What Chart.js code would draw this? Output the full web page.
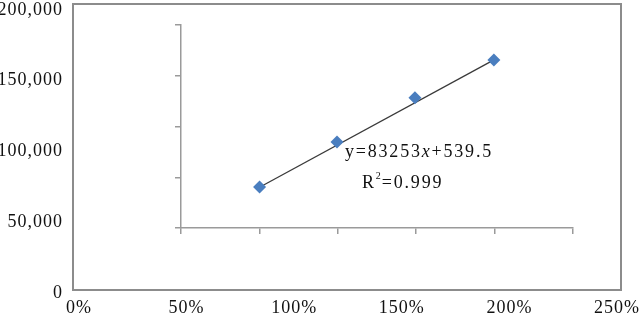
<!DOCTYPE html>
<html><head><meta charset="utf-8">
<script src="https://cdn.jsdelivr.net/npm/chart.js@4"></script>
<style>html,body{margin:0;padding:0;background:#fff;overflow:hidden}
#wrap{position:relative;width:640px;height:317px;background:#fff}
canvas{position:absolute;left:0;top:0}
</style></head><body>
<div id="wrap"><canvas id="c1" width="640" height="317"></canvas><canvas id="c2" width="640" height="317"></canvas></div>
<script>
// data
const xValues = [0.839, 1.199, 1.561, 1.928];
const yValues = [72800, 104600, 135700, 162500];
const trendX = [0.839, 1.928];
const trendY = [72600, 162500];
const xTickValues = [0, 0.5, 1, 1.5, 2, 2.5];
const yTickValues = [0, 50000, 100000, 150000, 200000];
const innerXTicks = [0, 1, 2, 3, 4, 5];
const innerYTicks = [0, 1, 2, 3, 4];
const equationParts = ['y=83253', 'x', '+539.5'];
const r2Parts = ['R', '2', '=0.999'];

const FONT = '"Liberation Serif", "Times New Roman", serif';
const spacing = {
  id: 'spacing',
  beforeUpdate(c) { c.ctx.letterSpacing = '1px'; },
  beforeDraw(c) { c.ctx.letterSpacing = '1px'; }
};
const frame = {
  id: 'frame',
  afterDraw(c) {
    const a = c.chartArea, ctx = c.ctx;
    ctx.save();
    ctx.strokeStyle = '#8c8c8c';
    ctx.lineWidth = 2;
    ctx.strokeRect(a.left, a.top, a.right - a.left, a.bottom - a.top);
    ctx.restore();
  }
};
const equation = {
  id: 'equation',
  afterDraw(c) {
    const ctx = c.ctx;
    ctx.save();
    ctx.letterSpacing = '1.8px';
    ctx.fillStyle = '#111';
    ctx.textBaseline = 'middle';
    ctx.textAlign = 'left';
    let x = 345, y = 152;
    equationParts.forEach((t, i) => {
      ctx.font = (i === 1 ? 'italic ' : '') + '18px ' + FONT;
      ctx.fillText(t, x, y);
      x += ctx.measureText(t).width;
    });
    x = 362; y = 183;
    ctx.font = '18px ' + FONT;
    ctx.fillText(r2Parts[0], x, y);
    x += ctx.measureText(r2Parts[0]).width;
    ctx.font = '10px ' + FONT;
    ctx.letterSpacing = '0px';
    ctx.fillText(r2Parts[1], x, y - 7);
    x += ctx.measureText(r2Parts[1]).width + 1;
    ctx.letterSpacing = '1.8px';
    ctx.font = '18px ' + FONT;
    ctx.fillText(r2Parts[2], x, y);
    ctx.restore();
  }
};
const noPad = s => { s.paddingLeft = 0; s.paddingRight = 0; s.paddingTop = 0; s.paddingBottom = 0; };

new Chart(document.getElementById('c1'), {
  type: 'scatter',
  data: {
    datasets: [
      {
        type: 'line',
        data: trendX.map((x, i) => ({ x, y: trendY[i] })),
        borderColor: '#3a3a3a', borderWidth: 1.3, pointRadius: 0, fill: false, order: 2
      },
      {
        data: xValues.map((x, i) => ({ x, y: yValues[i] })),
        pointStyle: 'rectRot', pointRadius: 6.5,
        backgroundColor: '#4a7ebf', borderColor: '#4a7ebf', borderWidth: 0, order: 1
      }
    ]
  },
  options: {
    responsive: false, animation: false, events: [],
    layout: { autoPadding: false, padding: { left: 0, right: 19, top: 4, bottom: 0 } },
    plugins: { legend: { display: false }, tooltip: { enabled: false } },
    scales: {
      x: {
        type: 'linear', min: -0.0279, max: 2.5186,
        afterBuildTicks: s => { s.ticks = xTickValues.map(v => ({ value: v })); },
        grid: { display: false },
        border: { display: true, color: '#8c8c8c', width: 2 },
        ticks: { padding: -1, color: '#111', autoSkip: false, maxRotation: 0,
          font: { family: FONT, size: 18 },
          callback: v => Math.round(v * 100) + '%' },
        afterFit: s => { s.height = 27; noPad(s); }
      },
      y: {
        type: 'linear', min: 0, max: 202000,
        afterBuildTicks: s => { s.ticks = yTickValues.map(v => ({ value: v })); },
        grid: { display: false },
        border: { display: true, color: '#8c8c8c', width: 2 },
        ticks: { padding: 2, labelOffset: 3, color: '#111', autoSkip: false,
          font: { family: FONT, size: 18 },
          callback: v => v.toLocaleString('en-US') },
        afterFit: s => { s.width = 73; noPad(s); }
      }
    }
  },
  plugins: [spacing, frame, equation]
});

new Chart(document.getElementById('c2'), {
  type: 'scatter',
  data: { datasets: [] },
  options: {
    responsive: false, animation: false, events: [],
    layout: { autoPadding: false, padding: { left: 173, right: 67, top: 25, bottom: 81 } },
    plugins: { legend: { display: false }, tooltip: { enabled: false } },
    scales: {
      x: {
        type: 'linear', min: 0, max: 5,
        afterBuildTicks: s => { s.ticks = innerXTicks.map(v => ({ value: v })); },
        grid: { drawOnChartArea: false, drawTicks: true, tickLength: 6, color: '#9a9a9a', lineWidth: 1.5 },
        border: { display: true, color: '#9a9a9a', width: 1.5 },
        ticks: { display: false },
        afterFit: s => { s.height = 8; noPad(s); }
      },
      y: {
        type: 'linear', min: 0, max: 4,
        afterBuildTicks: s => { s.ticks = innerYTicks.map(v => ({ value: v })); },
        grid: { drawOnChartArea: false, drawTicks: true, tickLength: 6, color: '#9a9a9a', lineWidth: 1.5 },
        border: { display: true, color: '#9a9a9a', width: 1.5 },
        ticks: { display: false },
        afterFit: s => { s.width = 8; noPad(s); }
      }
    }
  }
});
</script>
</body></html>
